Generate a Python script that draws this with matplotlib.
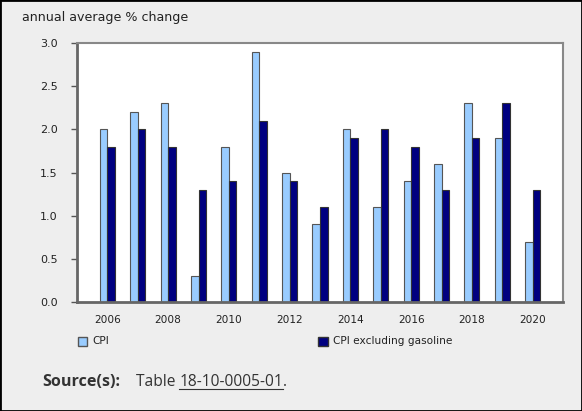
import matplotlib
matplotlib.use('Agg')
import matplotlib.pyplot as plt
from matplotlib.patches import Rectangle

years = list(range(2006, 2021))
cpi = [2.0, 2.2, 2.3, 0.3, 1.8, 2.9, 1.5, 0.9, 2.0, 1.1, 1.4, 1.6, 2.3, 1.9, 0.7]
cpi_ex_gas = [1.8, 2.0, 1.8, 1.3, 1.4, 2.1, 1.4, 1.1, 1.9, 2.0, 1.8, 1.3, 1.9, 2.3, 1.3]
yticks = [0.0, 0.5, 1.0, 1.5, 2.0, 2.5, 3.0]
xticks = list(range(2006, 2021, 2))

bg = '#eeeeee'
W, H = 582, 411
fig = plt.figure(figsize=(5.82, 4.11), dpi=100, facecolor=bg)
ax = fig.add_axes([77 / W, 1 - 302 / H, (563 - 77) / W, (302 - 43) / H])
ax.set_facecolor('white')

w = 0.25
ax.bar([y - w / 2 for y in years], cpi, width=w, color='#99ccff',
       edgecolor='#555555', linewidth=0.8, label='CPI')
ax.bar([y + w / 2 for y in years], cpi_ex_gas, width=w, color='#000080',
       edgecolor='#333333', linewidth=0.8, label='CPI excluding gasoline')

ax.set_xlim(2005, 2021)
ax.set_ylim(0, 3.0)
ax.set_yticks(yticks)
ax.set_yticklabels([f'{v:.1f}' for v in yticks])
ax.set_xticks(xticks)
ax.set_xticklabels([str(x) for x in xticks])
ax.tick_params(axis='x', length=0, pad=9, labelsize=7.6, labelcolor='#222222')
ax.tick_params(axis='y', length=4, width=1, color='#555555', pad=10,
               labelsize=8, labelcolor='#222222')
for s in ['top', 'right']:
    ax.spines[s].set_color('#888888')
    ax.spines[s].set_linewidth(1.5)
for s in ['left', 'bottom']:
    ax.spines[s].set_color('#666666')
    ax.spines[s].set_linewidth(2)

fig.text(22 / W, 1 - 17 / H, 'annual average % change', fontsize=9.1,
         color='#222222', va='center', ha='left')

# legend drawn by hand as in the original page
fig.patches.append(Rectangle((78 / W, 1 - 346 / H), 9 / W, 9 / H,
                             transform=fig.transFigure, facecolor='#99ccff',
                             edgecolor='#555555', linewidth=1))
fig.text(92 / W, 1 - 341 / H, 'CPI', fontsize=7.6, color='#222222',
         va='center', ha='left')
fig.patches.append(Rectangle((318 / W, 1 - 346 / H), 10 / W, 9 / H,
                             transform=fig.transFigure, facecolor='#000080',
                             edgecolor='#333333', linewidth=1))
fig.text(333 / W, 1 - 341 / H, 'CPI excluding gasoline', fontsize=7.6,
         color='#222222', va='center', ha='left')

ys = 1 - 382 / H
src = fig.text(42 / W, ys, 'Source(s):', fontsize=11.6,
               fontweight='bold', family='Open Sans', color='#333333',
               va='center', ha='left')
t1 = fig.text(136 / W, ys, 'Table ', fontsize=11.2, family='Open Sans',
              color='#333333', va='center', ha='left')
fig.canvas.draw()
x3 = t1.get_window_extent().x1 / W
t2 = fig.text(x3, ys, '18-10-0005-01', fontsize=11.2,
              family='Open Sans', color='#333333', va='center', ha='left')
fig.canvas.draw()
b2 = t2.get_window_extent()
fig.lines.append(plt.Line2D([b2.x0 / W, b2.x1 / W],
                            [1 - 389 / H, 1 - 389 / H],
                            transform=fig.transFigure, color='#333333',
                            linewidth=0.8))
fig.text(b2.x1 / W, ys, '.', fontsize=11.2, family='Open Sans',
         color='#333333', va='center', ha='left')

# outer frame
fig.patches.append(Rectangle((0, 0), 1, 1, transform=fig.transFigure,
                             fill=False, edgecolor='black', linewidth=2))

fig.savefig('out.png', dpi=100, facecolor=bg)
